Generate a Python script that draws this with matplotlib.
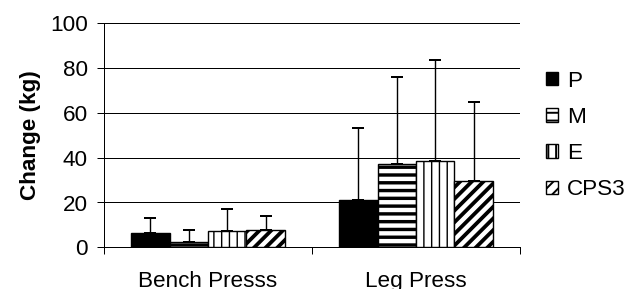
import numpy as np
import matplotlib
matplotlib.use("Agg")
import matplotlib.pyplot as plt

plt.rcParams['font.family'] = ['Liberation Sans', 'DejaVu Sans']

groups = ["Bench Presss", "Leg Press"]
series = ["P", "M", "E", "CPS3"]
P = [6.2, 21.0]
M = [2.2, 37.3]
E = [7.3, 38.7]
CPS3 = [7.9, 29.5]
P_err = [7.0, 32.4]
M_err = [5.5, 38.6]
E_err = [9.7, 44.9]
CPS3_err = [6.1, 35.5]
yticks = [0, 20, 40, 60, 80, 100]

DPI = 140
px = 72.0 / DPI  # one pixel in points
fs = 22.5 * px

fig = plt.figure(figsize=(629 / DPI, 289 / DPI), dpi=DPI, facecolor="w")
ax = fig.add_axes([104 / 629, 41.7 / 289, 416 / 629, 224 / 289])

x = np.arange(len(groups))
w = 0.185
styles = [("", 0.5), ("---", 3.4), ("|||", 1.4), ("////", 3.8)]
vals = [P, M, E, CPS3]
errs = [P_err, M_err, E_err, CPS3_err]

handles = []
for i, (name, v, e) in enumerate(zip(series, vals, errs)):
    hatch, hlw = styles[i]
    pos = x + (i - 1.5) * w
    with plt.rc_context({"hatch.linewidth": hlw * px, "hatch.color": "black"}):
        bars = ax.bar(pos, v, w, color="black" if i == 0 else "white",
                      edgecolor="black", linewidth=1.4 * px, hatch=hatch,
                      label=name, zorder=3)
    for b in bars:
        if hasattr(b, "set_hatch_linewidth"):
            b.set_hatch_linewidth(hlw * px)
    ax.errorbar(pos, v, yerr=[np.zeros(len(v)), e], fmt="none", ecolor="black",
                elinewidth=1.4 * px, capsize=6.5 * px, capthick=2 * px, zorder=2)
    handles.append(bars)

ax.set_xlim(-0.5, 1.5)
ax.set_ylim(0, 100)
ax.set_yticks(yticks)
ax.set_xticks(x)
ax.set_xticklabels(groups)
ax.set_xticks([-0.5, 0.5, 1.5], minor=True)
ax.tick_params(axis="x", which="major", length=0, pad=24 * px, labelsize=fs)
ax.tick_params(axis="x", which="minor", length=7 * px, width=1 * px, direction="out")
ax.tick_params(axis="y", length=7 * px, width=1 * px, pad=9 * px, labelsize=fs)
ax.yaxis.grid(True, color="black", lw=1 * px, zorder=0)
ax.set_axisbelow(True)
for s in ["top", "right"]:
    ax.spines[s].set_visible(False)
for s in ["left", "bottom"]:
    ax.spines[s].set_linewidth(1 * px)
ax.set_ylabel("Change (kg)", fontsize=fs, fontweight="bold", labelpad=9 * px)

fig.legend(handles, series, loc="center left", bbox_to_anchor=(546 / 629, 1 - 135.5 / 289),
           frameon=False, fontsize=fs, borderpad=0, borderaxespad=0,
           handlelength=0.55, handleheight=0.55, handletextpad=0.4, labelspacing=0.68)

fig.savefig("out.png", dpi=DPI)
